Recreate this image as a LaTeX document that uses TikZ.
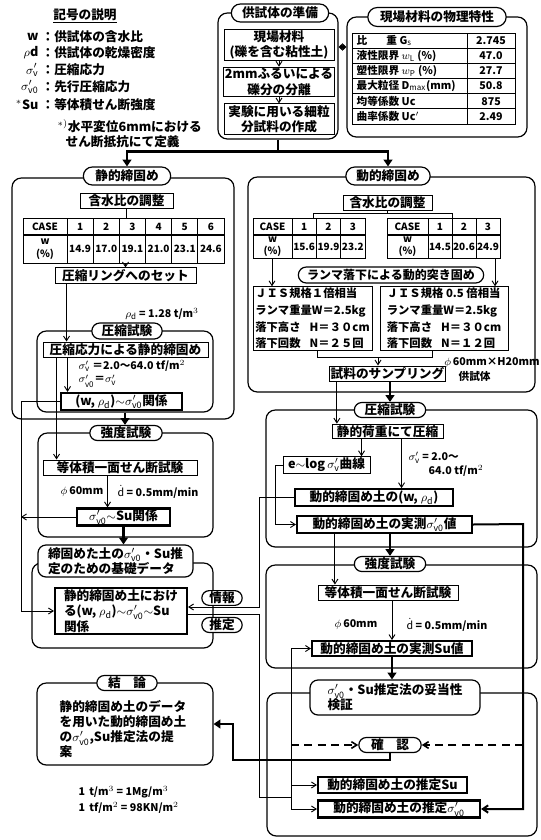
\documentclass[tikz,border=0pt]{standalone}
\usepackage{fontspec}
\setmainfont{Noto Sans CJK JP}
\usetikzlibrary{shapes.misc,arrows.meta,calc}
\newcommand{\sgv}{$\sigma_{\mathrm{v}}'$}
\newcommand{\sgvo}{$\sigma_{\mathrm{v0}}'$}
\newcommand{\rhod}{$\rho_{\mathrm{d}}$}
\begin{document}
\begin{tikzpicture}[x=0.75pt,y=-0.75pt,
 every node/.style={font=\fontsize{9.5}{11.5}\selectfont\bfseries, inner sep=1pt},
 sz/.style 2 args={minimum width=#1*0.75pt, minimum height=#2*0.75pt},
 grp/.style={draw, rounded corners=7pt, line width=0.9pt, inner sep=0pt},
 box/.style={draw, fill=white, line width=0.7pt, align=center, inner sep=1pt},
 tbox/.style={box, line width=1.6pt},
 rbox/.style={box, rounded corners=6pt, line width=0.9pt, align=left},
 pill/.style={draw, fill=white, rounded rectangle, line width=0.9pt, inner sep=1pt},
 cell/.style={font=\fontsize{7.5}{8.5}\selectfont\bfseries, inner sep=0pt},
 small/.style={font=\fontsize{8}{9.5}\selectfont\bfseries},
 ln/.style={line width=0.7pt},
 arr/.style={line width=0.7pt, -{Straight Barb[length=3.5pt,width=4.5pt]}},
 tln/.style={line width=2.2pt},
 tarr/.style={line width=2.2pt, -{Triangle[length=5pt,width=6.5pt]}},
 marr/.style={line width=1.5pt, -{Straight Barb[length=4pt,width=5.5pt]}},
 darr/.style={line width=1.2pt, dash pattern=on 6pt off 4pt, -{Straight Barb[length=4pt,width=5pt]}}
]
\fill[white] (0,0) rectangle (541,840);
\useasboundingbox (0,0) rectangle (541,840);

% ---------- legend
\node (lgT) at (85,16) {\underline{記号の説明}};
\node[anchor=east] (ls1) at (40,37) {w};
\node[anchor=west] (lt1) at (40,37) {：供試体の含水比};
\node[anchor=east] (ls2) at (40,53) {$\rho$d};
\node[anchor=west] (lt2) at (40,53) {：供試体の乾燥密度};
\node[anchor=east] (ls3) at (40,70) {\sgv};
\node[anchor=west] (lt3) at (40,70) {：圧縮応力};
\node[anchor=east] (ls4) at (40,87) {\sgvo};
\node[anchor=west] (lt4) at (40,87) {：先行圧縮応力};
\node[anchor=east] (ls5) at (40,105) {$^{*}$Su};
\node[anchor=west] (lt5) at (40,105) {：等体積せん断強度};
\node[anchor=west] (lt6) at (56,126) {$^{*)}$水平変位6mmにおける};
\node[anchor=west] (lt7) at (64,142) {せん断抵抗にて定義};

% ---------- groups
\node[grp, sz={120}{126}] (g_prep) at (278,76) {};
\node[grp, sz={180}{120}] (g_phys) at (437,77) {};
\node[grp, sz={222}{241}] (g_static) at (123,298.5) {};
\node[grp, sz={176}{81}] (g_comp1) at (125,371.5) {};
\node[grp, sz={175}{104}] (g_str1) at (125.5,485) {};
\node[grp, sz={181}{85}] (g_base) at (122.5,605.5) {};
\node[grp, sz={176}{82}] (g_concl) at (125,724) {};
\node[grp, sz={287}{215}] (g_dyn) at (391.5,284.5) {};
\node[grp, sz={271}{137}] (g_comp2) at (401.5,478.5) {};
\node[grp, sz={271}{103}] (g_str2) at (401.5,616.5) {};
\node[grp, sz={270}{143}] (g_valid) at (402,764.5) {};

% ---------- pills
\node[pill, sz={100}{18}] (p_prep) at (280,13) {供試体の準備};
\node[pill, sz={141}{19}] (p_phys) at (437,17) {現場材料の物理特性};
\node[pill, sz={90}{18}] (p_static) at (127,176) {静的締固め};
\node[pill, sz={73}{16}] (p_comp1) at (127,331) {圧縮試験};
\node[pill, sz={75}{15}] (p_str1) at (126,433) {強度試験};
\node[pill, sz={63}{15}] (p_concl) at (127,683) {結\hspace{1em}論};
\node[pill, sz={87}{18}] (p_dyn) at (388,176) {動的締固め};
\node[pill, sz={188}{16}, font=\fontsize{9}{11}\selectfont\bfseries] (p_ram) at (391,275) {ランマ落下による動的突き固め};
\node[pill, sz={74}{15}] (p_comp2) at (390,410) {圧縮試験};
\node[pill, sz={74}{15}] (p_str2) at (390,564) {強度試験};
\node[pill, sz={65}{15}] (p_conf) at (390,745) {確\hspace{1em}認};
\node[pill, sz={43}{14}] (p_info) at (222,598) {情報};
\node[pill, sz={43}{15}] (p_est) at (222,625) {推定};
\node[rbox, sz={155}{32}] (p_base) at (115.5,561) {締固めた土の\sgvo・Su推\\定のための基礎データ};
\node[rbox, sz={170}{35}] (b_valid) at (395,697.5) {\sgvo・Su推定法の妥当性\\検証};

% ---------- boxes
\node[box, sz={110}{26}] (b_field) at (279,45) {現場材料\\(礫を含む粘性土)};
\node[box, sz={110}{28}] (b_sieve) at (279,82) {2mmふるいによる\\礫分の分離};
\node[box, sz={110}{27}] (b_make) at (279,119) {実験に用いる細粒\\分試料の作成};

\node[box, sz={93}{15}] (b_wadj1) at (126.5,200.5) {含水比の調整};
\node[box, sz={141}{15}] (b_ring) at (125.5,275.5) {圧縮リングへのセット};
\node[box, sz={165}{15}] (b_cstress) at (125.5,349.5) {圧縮応力による静的締固め};
\node[tbox, sz={121}{17}] (b_wrho1) at (121.5,401.5) {(w, \rhod)$\sim$\sgvo 関係};
\node[box, sz={154}{15}] (b_shear1) at (120,467.5) {等体積一面せん断試験};
\node[tbox, sz={93}{14}] (b_svsu1) at (123.5,517) {\sgvo$\sim$Su関係};
\node[tbox, sz={132}{44}, align=left] (b_static_rel) at (121,611) {静的締固め土におけ\\る(w, \rhod)$\sim$\sgvo$\sim$Su\\関係};

\node[box, sz={89}{15}] (b_wadj2) at (387.5,202.5) {含水比の調整};
\node[box, sz={119}{63}, align=left, font=\fontsize{8.5}{12.5}\selectfont\bfseries] (b_jis1) at (312.5,318.5) {ＪＩＳ規格１倍相当\\ランマ重量W＝2.5kg\\落下高さ\hspace{0.8em}H＝３０cm\\落下回数\hspace{0.8em}N＝２５回};
\node[box, sz={128}{63}, align=left, font=\fontsize{8.5}{12.5}\selectfont\bfseries] (b_jis2) at (444,318.5) {ＪＩＳ規格 0.5 倍相当\\ランマ重量W＝2.5kg\\落下高さ\hspace{0.8em}H＝３０cm\\落下回数\hspace{0.8em}N＝１２回};
\node[box, sz={111}{14}] (b_samp) at (387.5,373.5) {試料のサンプリング};
\node[box, sz={111}{14}] (b_sload) at (387.5,431.5) {静的荷重にて圧縮};
\node[box, sz={87}{14}] (b_elog) at (326.5,465) {e$\sim$log\,\sgv 曲線};
\node[tbox, sz={158}{15}] (b_wrho2) at (374,497.5) {動的締固め土の(w, \rhod)};
\node[tbox, sz={175}{15}] (b_meas_sv) at (384.5,524.5) {動的締固め土の実測\sgvo 値};
\node[box, sz={140}{15}] (b_shear2) at (388,592.5) {等体積一面せん断試験};
\node[tbox, sz={160}{14}] (b_meas_su) at (392,648.5) {動的締固め土の実測Su値};
\node[tbox, sz={149}{16}] (b_est_su) at (392.5,785) {動的締固め土の推定Su};
\node[tbox, sz={162}{16}] (b_est_sv) at (399,809) {動的締固め土の推定\sgvo};

% ---------- free texts
\node[small] (t_rho) at (162,314) {\rhod\ = 1.28 t/m$^3$};
\node[anchor=west, small] (t_sv1) at (77,366) {\sgv\ ＝2.0～64.0 tf/m$^2$};
\node[anchor=west, small] (t_sv0) at (77,381) {\sgvo ＝\sgv};
\node[small] (t_phi1) at (82,492) {$\phi$\,60mm};
\node[small, anchor=west] (t_d1) at (116,492) {$\dot{\mathrm{d}}$ = 0.5mm/min};
\node[small] (t_phi2) at (492,363) {$\phi$\,60mm×H20mm};
\node[anchor=west, small] (t_spec) at (457,376) {供試体};
\node[anchor=west, small] (t_sv2) at (407,458) {\sgv\ = 2.0～};
\node[anchor=west, small] (t_sv2b) at (427,471) {64.0 tf/m$^2$};
\node[small] (t_phi3) at (356,625) {$\phi$\,60mm};
\node[small, anchor=west] (t_d2) at (405,625) {$\dot{\mathrm{d}}$ = 0.5mm/min};
\node[anchor=north west, align=left, font=\fontsize{9.5}{11.3}\selectfont\bfseries] (t_concl) at (58,699) {静的締固め土のデータ\\を用いた動的締固め土\\の\sgvo,Su推定法の提\\案};
\node[anchor=west, small] (t_u1) at (77,792) {1\,\ t/m$^3$ = 1Mg/m$^3$};
\node[anchor=west, small] (t_u2) at (77,808) {1\,\ tf/m$^2$ = 98KN/m$^2$};

% ---------- physical property table
\node[anchor=north west, draw, line width=0.8pt, sz={163}{91}, inner sep=0pt] (tabP) at (352,33) {};
\foreach \k in {1,...,5} \draw[ln] (352,{33+15.17*\k}) -- (515,{33+15.17*\k});
\draw[ln] (467,33) -- (467,124);
\node[anchor=west, small] (pa1) at (355,40.6) {比\hspace{1.8em}重 G$_{\mathrm{s}}$};
\node[anchor=west, small] (pa2) at (355,55.8) {液性限界 $w_{\mathrm{L}}$ (\%)};
\node[anchor=west, small] (pa3) at (355,70.9) {塑性限界 $w_{\mathrm{P}}$ (\%)};
\node[anchor=west, small] (pa4) at (355,86.1) {最大粒径 D$_{\max}$(mm)};
\node[anchor=west, small] (pa5) at (355,101.3) {均等係数 Uc};
\node[anchor=west, small] (pa6) at (355,116.4) {曲率係数 Uc$'$};
\node[small] (pb1) at (491,40.6) {2.745};
\node[small] (pb2) at (491,55.8) {47.0};
\node[small] (pb3) at (491,70.9) {27.7};
\node[small] (pb4) at (491,86.1) {50.8};
\node[small] (pb5) at (491,101.3) {875};
\node[small] (pb6) at (491,116.4) {2.49};

% ---------- static water content table
\node[anchor=north west, draw, line width=0.8pt, sz={201}{45}, inner sep=0pt] (tab1) at (23,218) {};
\draw[line width=1.1pt] (23,235) -- (224,235);
\draw[ln] (67,218) -- (67,263);
\foreach \k in {1,...,5} \draw[ln] ({67+26.17*\k},218) -- ({67+26.17*\k},263);
\node[cell] (t1h) at (45,226.5) {CASE};
\node[cell] (t1w) at (45,249) {\shortstack{w\\(\%)}};
\foreach \v [count=\k] in {14.9,17.0,19.1,21.0,23.1,24.6} {
  \node[cell] (t1h\k) at ({67+26.17*(\k-0.5)},226.5) {\k};
  \node[cell] (t1v\k) at ({67+26.17*(\k-0.5)},249) {\v};
}

% ---------- dynamic tables
\node[anchor=north west, draw, line width=0.8pt, sz={112}{40}, inner sep=0pt] (tabA) at (253,218) {};
\draw[line width=1.1pt] (253,235) -- (365,235);
\foreach \xx in {292,316.3,340.7} \draw[ln] (\xx,218) -- (\xx,258);
\node[cell] (tAh) at (272.5,226.5) {CASE};
\node[cell] (tAw) at (272.5,246.5) {\shortstack{w\\(\%)}};
\foreach \v [count=\k] in {15.6,19.9,23.2} {
  \node[cell] (tAh\k) at ({292+24.33*(\k-0.5)},226.5) {\k};
  \node[cell] (tAv\k) at ({292+24.33*(\k-0.5)},246.5) {\v};
}
\node[anchor=north west, draw, line width=0.8pt, sz={113}{40}, inner sep=0pt] (tabB) at (387,218) {};
\draw[line width=1.1pt] (387,235) -- (500,235);
\foreach \xx in {428,452,476} \draw[ln] (\xx,218) -- (\xx,258);
\node[cell] (tBh) at (407.5,226.5) {CASE};
\node[cell] (tBw) at (407.5,246.5) {\shortstack{w\\(\%)}};
\foreach \v [count=\k] in {14.5,20.6,24.9} {
  \node[cell] (tBh\k) at ({428+24*(\k-0.5)},226.5) {\k};
  \node[cell] (tBv\k) at ({428+24*(\k-0.5)},246.5) {\v};
}

% ---------- connectors: preparation
\draw[arr] (b_field.south) -- (b_sieve.north);
\draw[arr] (b_sieve.south) -- (b_make.north);
\draw[line width=1.8pt, {Triangle[length=3pt,width=5.5pt]}-{Triangle[length=3pt,width=5.5pt]}] ([yshift=21.75pt]g_prep.east) -- ([yshift=21.75pt]g_prep.east -| g_phys.west);
\draw[tln] (g_prep.south) -- ++(0,12) coordinate (hub);
\draw[tarr] (hub) -| (p_static.north);
\draw[tarr] (hub) -| (p_dyn.north);

% ---------- connectors: static side
\draw[ln] (b_wadj1.south) -- (b_wadj1.south |- tab1.north);
\draw[arr] (b_ring.north |- tab1.south) -- (b_ring.north);
\draw[arr] ([xshift=9pt]b_ring.south west) -- ([xshift=9pt]b_ring.south west |- b_cstress.north);
\draw[arr] ([xshift=18.75pt]b_cstress.south west) -- ([xshift=18.75pt]b_cstress.south west |- b_wrho1.north);
\draw[arr] ([xshift=10.5pt]b_cstress.south west) -- ([xshift=10.5pt]b_cstress.south west |- b_shear1.north);
\coordinate (cL) at (21,400);
\draw[arr] (b_wrho1.west) -- (b_wrho1.west -| cL) |- (b_static_rel.west);
\draw[arr] (b_svsu1.west) -- (b_svsu1.west -| cL);
\draw[tarr] (g_comp1.south) -- (g_comp1.south |- p_str1.north);
\draw[arr] ([xshift=48.75pt]b_shear1.south west) -- ([xshift=48.75pt]b_shear1.south west |- b_svsu1.north);
\draw[tarr] (b_svsu1.south) -- (b_svsu1.south |- p_base.north);

% ---------- connectors: dynamic side
\coordinate (bkL) at (313,213);
\coordinate (bkR) at (452,213);
\draw[ln] (b_wadj2.south) -- (b_wadj2.south |- bkL);
\draw[ln] (bkL |- tabA.north) -- (bkL) -- (bkR) -- (bkR |- tabB.north);
\draw[arr] ([xshift=14.25pt]tabA.south west) -- ([xshift=14.25pt]tabA.south west |- b_jis1.north);
\draw[arr] ([xshift=-4.5pt]tabB.south east) -- ([xshift=-4.5pt]tabB.south east |- b_jis2.north);
\coordinate (bb) at (378,357);
\draw[ln] ([xshift=48.75pt]b_jis1.south west) -- ([xshift=48.75pt]b_jis1.south west |- bb) -- ([xshift=39.75pt]b_jis2.south west |- bb) -- ([xshift=39.75pt]b_jis2.south west);
\draw[arr] (bb) -- (bb |- b_samp.north);
\draw[tarr] (p_comp2.north |- b_samp.south) -- (p_comp2.north);
\draw[arr] ([xshift=6pt]b_samp.south west) -- ([xshift=6pt]b_samp.south west |- b_sload.north);
\draw[arr] ([xshift=22.5pt]b_sload.south west) -- ([xshift=22.5pt]b_sload.south west |- b_elog.north);
\draw[arr] ([xshift=52.5pt]b_sload.south west) -- ([xshift=52.5pt]b_sload.south west |- b_wrho2.north);
\coordinate (cE2) at (275,465);
\draw[arr] (b_elog.west) -- (b_elog.west -| cE2) |- (b_meas_sv.west);
\draw[arr] ([xshift=29.25pt]b_meas_sv.south west) -- ([xshift=29.25pt]b_meas_sv.south west |- b_shear2.north);
\draw[tarr] (p_str2.north |- b_meas_sv.south) -- (p_str2.north);
\draw[arr] (b_meas_su.north |- b_shear2.south) -- (b_meas_su.north);
\draw[tarr] (b_meas_su.south) -- (b_meas_su.south |- b_valid.north);

% ---------- information / estimation
\coordinate (cI) at (259,607);
\coordinate (cE) at (259,614);
\coordinate (jn) at (291,797);
\draw[arr] (b_wrho2.west) -| (cI) -- (cI -| b_static_rel.east);
\draw[ln] (cE -| b_static_rel.east) -- (cE) |- (jn);
\draw[arr] (jn) |- (b_meas_su.west);
\draw[arr] (jn) |- (b_est_su.west);
\draw[arr] (jn) |- (b_est_sv.west);
\draw[darr] (jn |- p_conf) -- (p_conf.west);
\coordinate (cR) at (523,524);
\draw[marr] (b_meas_sv.east) -- (cR) |- (b_est_sv.east);
\draw[darr] (cR |- p_conf) -- (p_conf.east);
\coordinate (cK) at (233,760);
\draw[line width=2pt, -{Triangle[length=5pt,width=6.5pt]}] (p_conf.south) |- (cK) |- (g_concl.east);
\end{tikzpicture}
\end{document}
